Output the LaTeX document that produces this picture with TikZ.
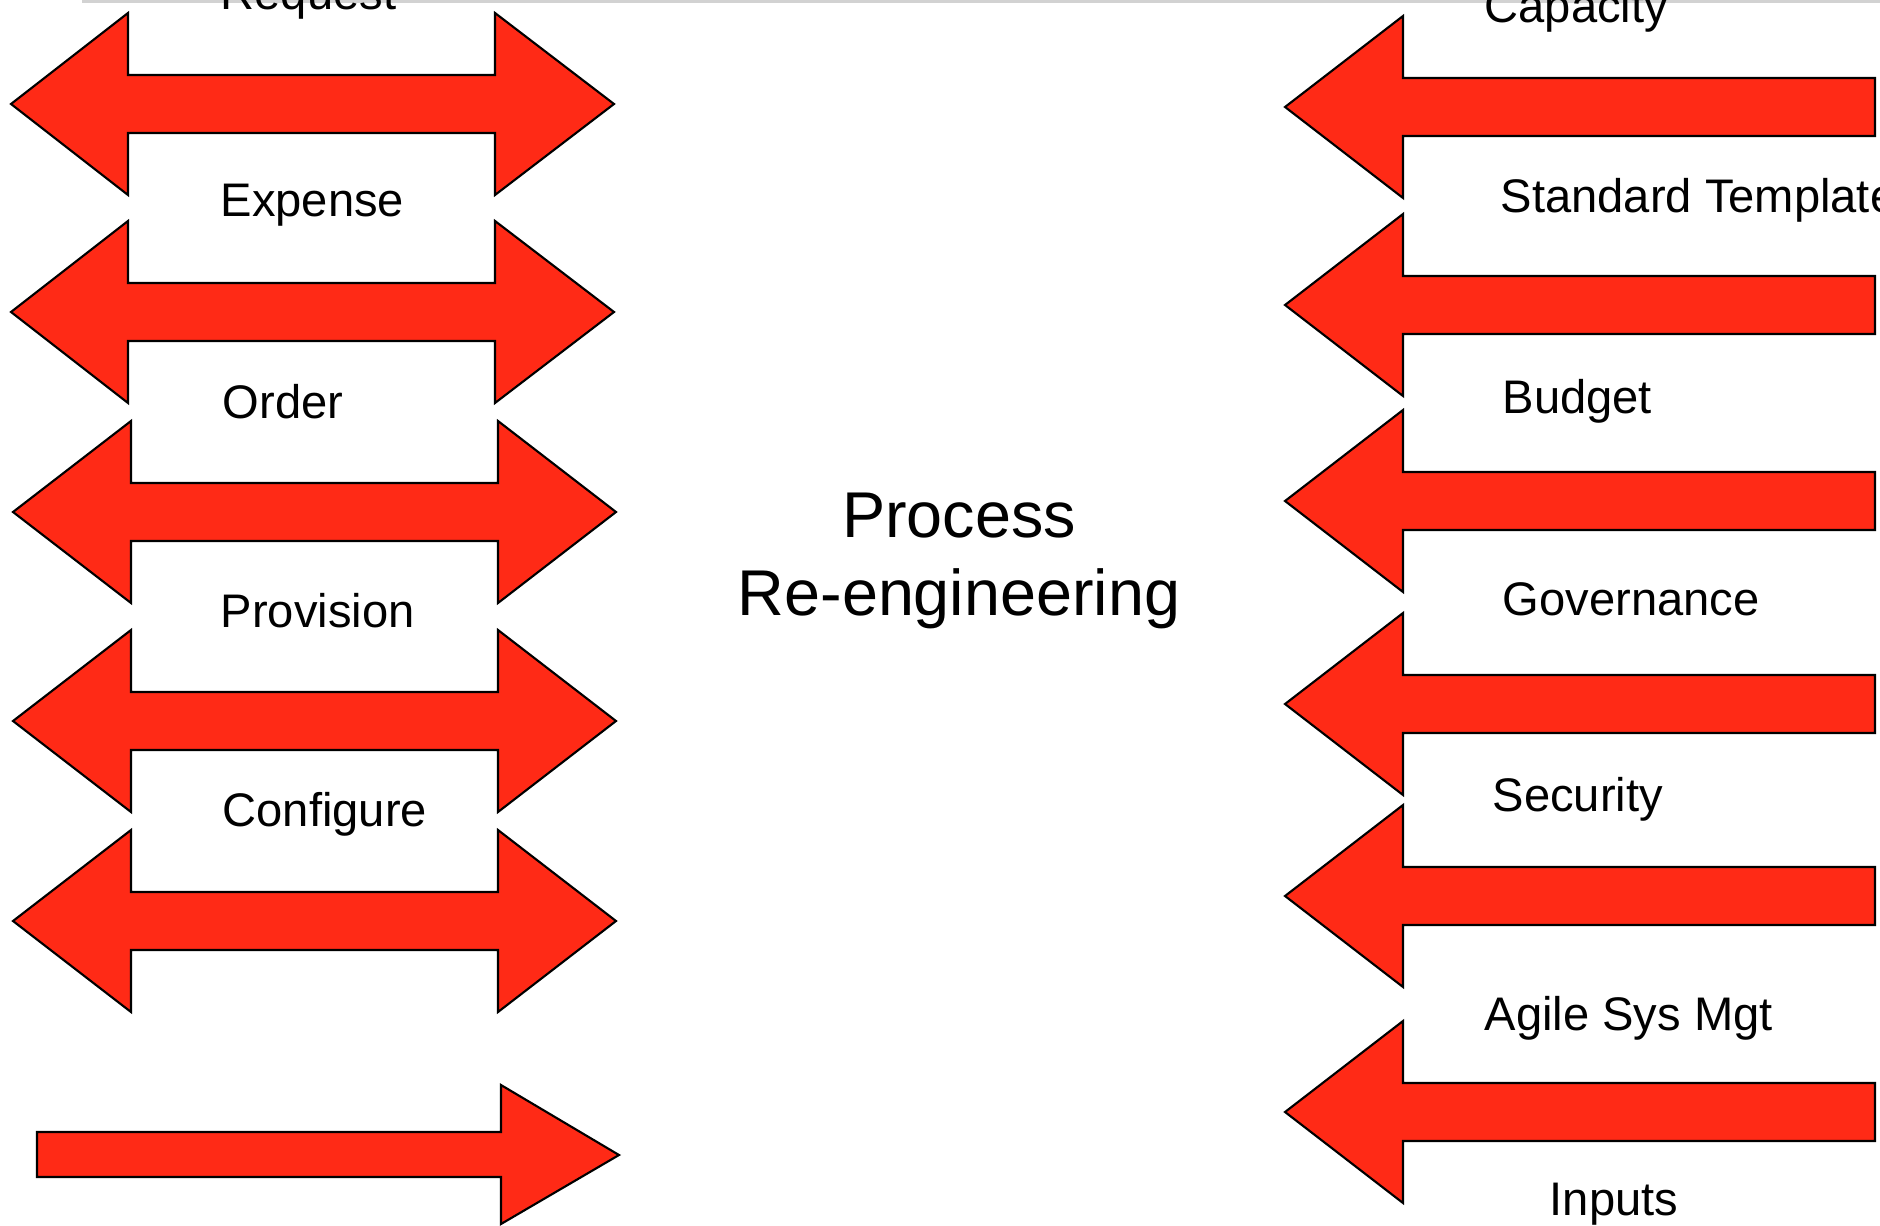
\documentclass[tikz,border=0pt]{standalone}
\usepackage{fontspec}
\setmainfont{Liberation Sans}
\usepackage{tikz}
\usetikzlibrary{positioning}
\definecolor{arrowred}{HTML}{FF2A16}
\definecolor{rulegray}{HTML}{D2D2D2}

\begin{document}
\begin{tikzpicture}[
    x=0.01cm, y=-0.01cm,
    blockarrow/.style={
        draw=black,
        fill=arrowred,
        line width=0.6pt,
        line join=miter
    },
    steplabel/.style={
        anchor=base west,
        inner sep=0pt,
        font=\fontsize{13.4}{16}\selectfont
    },
    centertitle/.style={
        align=center,
        inner sep=0pt,
        font=\fontsize{18.4}{22.1}\selectfont
    }
]

\useasboundingbox (0,0) rectangle (1880,1225);

% Top rule
\draw[rulegray, line width=1pt] (82,1) -- (1880,1);

% Double arrows (Left Column)
\foreach \c/\xa/\xb/\xc/\xd in {104/11/128/495/614, 312/11/128/495/614,
    512/13/131/498/616, 721/13/131/498/616, 921/13/131/498/616} {
    \draw[blockarrow] (\xa,\c) -- (\xb,\c-91) -- (\xb,\c-29) -- (\xc,\c-29)
        -- (\xc,\c-91) -- (\xd,\c) -- (\xc,\c+91) -- (\xc,\c+29)
        -- (\xb,\c+29) -- (\xb,\c+91) -- cycle;
}

% Single arrow at the bottom
\draw[blockarrow] (37,1132) -- (501,1132) -- (501,1085) -- (619,1155)
    -- (501,1224) -- (501,1177) -- (37,1177) -- cycle;

% Left arrows (Right Column)
\foreach \c in {107, 305, 501, 704, 896, 1112} {
    \draw[blockarrow] (1285,\c) -- (1403,\c-91) -- (1403,\c-29) -- (1875,\c-29)
        -- (1875,\c+29) -- (1403,\c+29) -- (1403,\c+91) -- cycle;
}

% Step labels
\node[steplabel] (request) at (220,10) {Request};
\node[steplabel] (expense) at (220,217) {Expense};
\node[steplabel] (order) at (222,419) {Order};
\node[steplabel] (provision) at (220,627) {Provision};
\node[steplabel] (configure) at (222,826) {Configure};

% Input labels
\node[steplabel] (capacity) at (1484,23) {Capacity};
\node[steplabel] (template) at (1500,213) {Standard Template};
\node[steplabel] (budget) at (1502,414) {Budget};
\node[steplabel] (governance) at (1502,615) {Governance};
\node[steplabel] (security) at (1492,811) {Security};
\node[steplabel] (agile) at (1484,1030) {Agile Sys Mgt};
\node[steplabel] (inputs) at (1549,1215) {Inputs};

% Title
\node[centertitle, anchor=base] (title) at (959,615) {Process\\Re-engineering};

\end{tikzpicture}
\end{document}
